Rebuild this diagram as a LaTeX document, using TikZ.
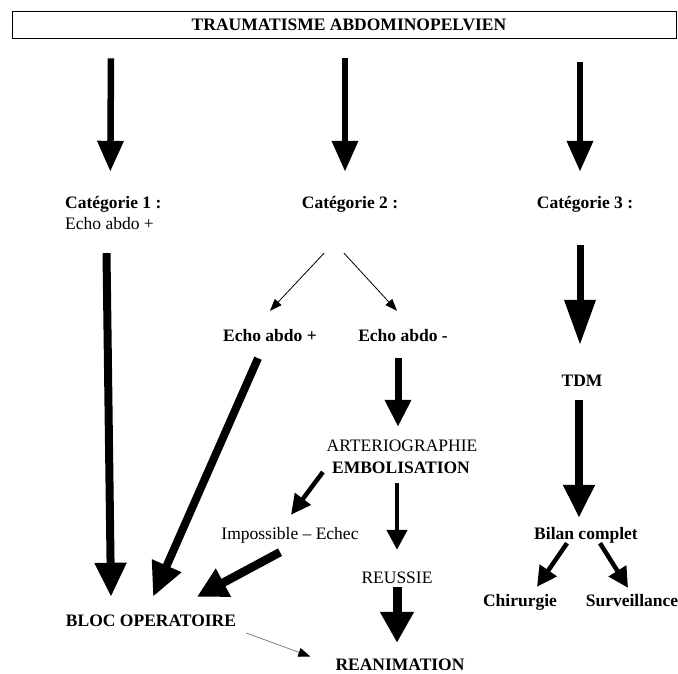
\documentclass[tikz,border=0pt]{standalone}
\usepackage{fontspec}
\setmainfont{Liberation Serif}
\usetikzlibrary{arrows.meta}
\newcommand\txtsize{\fontsize{17.5}{21}\selectfont}
\tikzset{
  lbl/.style={inner sep=0pt, text height=12pt, text depth=4pt, font=\txtsize},
  blbl/.style={lbl, font=\txtsize\bfseries},
  heavy/.style n args={3}{line width=#1, -{Triangle[length=#2,width=#3]}},
  thinarr/.style={line width=0.8pt, -{Triangle[length=12pt,width=9pt]}},
}
\begin{document}
\begin{tikzpicture}[x=1pt,y=-1pt]
\useasboundingbox (0,0) rectangle (678,673);
% title
\node[draw, line width=0.8pt, minimum width=664pt, minimum height=27pt, inner sep=0pt,
      font=\txtsize\bfseries] (title) at (344,25) {\hspace*{10pt}TRAUMATISME ABDOMINOPELVIEN};

% categories
\node[blbl, anchor=base west] (c1) at (65,208) {Catégorie 1 :};
\node[lbl, anchor=base west] (c1b) at (65,229) {Echo abdo +};
\node[blbl, anchor=base] (c2) at (350,208) {Catégorie 2 :};
\node[blbl, anchor=base] (c3) at (585,208) {Catégorie 3 :};

\node[blbl, anchor=base] (eplus) at (270,341) {Echo abdo +};
\node[blbl, anchor=base] (eminus) at (403,341) {Echo abdo -};
\node[blbl, anchor=base] (tdm) at (582,386) {TDM};

\node[lbl, anchor=base] (arterio) at (402,451) {ARTERIOGRAPHIE};
\node[blbl, anchor=base] (embol) at (401,473) {EMBOLISATION};
\node[lbl, anchor=base] (imposs) at (290,539) {Impossible -- Echec};
\node[lbl, anchor=base] (reussie) at (397,583) {REUSSIE};
\node[blbl, anchor=base] (bilan) at (586,539) {Bilan complet};
\node[blbl, anchor=base] (chir) at (520,606) {Chirurgie};
\node[blbl, anchor=base] (surv) at (632,606) {Surveillance};
\node[blbl, anchor=base] (bloc) at (151,626) {BLOC OPERATOIRE};
\node[blbl, anchor=base, text depth=1pt] (reanim) at (400,670) {REANIMATION};

% top arrows
\draw[heavy={6.5pt}{31pt}{25pt}] ([xshift=-233pt,yshift=-19.5pt]title.south) -- ([xshift=-3pt,yshift=24pt]c1.north);
\draw[heavy={6.5pt}{31pt}{25pt}] ([xshift=1pt,yshift=-19.5pt]title.south) -- ([xshift=-5pt,yshift=24pt]c2.north);
\draw[heavy={6.5pt}{31pt}{25pt}] ([xshift=236pt,yshift=-23.5pt]title.south) -- ([xshift=-5pt,yshift=24pt]c3.north);

% categorie 1
\draw[heavy={8pt}{34pt}{30pt}] ([xshift=-3pt,yshift=-20pt]c1b.south) -- ([xshift=-40pt,yshift=17pt]bloc.north);

% categorie 2
\draw[thinarr] ([xshift=-26pt,yshift=-41pt]c2.south) -- ([yshift=18pt]eplus.north);
\draw[thinarr] ([xshift=-6pt,yshift=-41pt]c2.south) -- ([xshift=-6pt,yshift=18pt]eminus.north);
\draw[heavy={8pt}{34pt}{30pt}] ([xshift=-12pt,yshift=-13pt]eplus.south) -- ([xshift=2pt,yshift=17pt]bloc.north);
\draw[heavy={7pt}{27pt}{25pt}] ([xshift=-5pt,yshift=-13pt]eminus.south) -- ([xshift=-4pt,yshift=12pt]arterio.north);
\draw[heavy={4.5pt}{20pt}{19pt}] ([xshift=-9pt,yshift=-3pt]embol.west) -- ([xshift=1pt,yshift=12pt]imposs.north);
\draw[heavy={4.5pt}{20pt}{20pt}] ([xshift=-4pt,yshift=-6pt]embol.south) -- ([yshift=21pt]reussie.north);
\draw[heavy={9pt}{31pt}{32pt}] (reussie.south) -- ([xshift=-3pt,yshift=15pt]reanim.north);
\draw[heavy={8.5pt}{30pt}{30pt}] ([xshift=-10pt,yshift=-9pt]imposs.south) -- ([xshift=46pt,yshift=17pt]bloc.north);
\draw[gray, line width=0.8pt, -{Triangle[length=12pt,width=9pt,black]}] ([xshift=10pt,yshift=-11pt]bloc.east) -- ([xshift=-25pt,yshift=8pt]reanim.west);

% categorie 3
\draw[heavy={7pt}{45pt}{30pt}] ([xshift=-5pt,yshift=-33pt]c3.south) -- ([xshift=-2pt,yshift=29pt]tdm.north);
\draw[heavy={8pt}{33pt}{30pt}] ([xshift=-3pt,yshift=-10pt]tdm.south) -- ([xshift=-7pt,yshift=9pt]bilan.north);
\draw[heavy={4.5pt}{20pt}{20pt}] ([xshift=-19pt]bilan.south) -- ([xshift=17pt,yshift=7pt]chir.north);
\draw[heavy={4.5pt}{20pt}{20pt}] ([xshift=14pt]bilan.south) -- ([xshift=-4pt,yshift=6pt]surv.north);
\end{tikzpicture}
\end{document}
